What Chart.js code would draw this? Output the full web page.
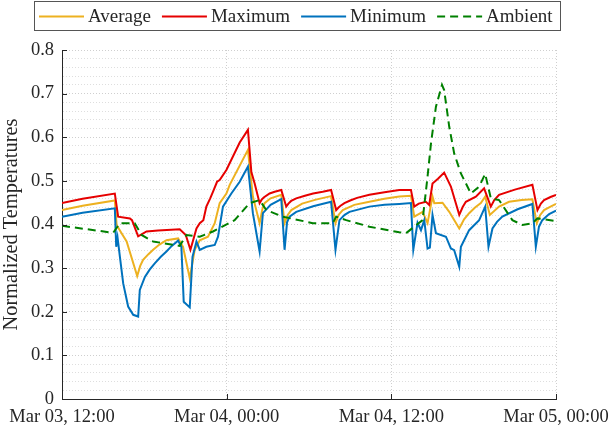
<!DOCTYPE html>
<html><head><meta charset="utf-8">
<script src="https://cdn.jsdelivr.net/npm/chart.js@4.4.0/dist/chart.umd.min.js"></script>
<style>html,body{margin:0;padding:0;background:#fff;}</style>
</head><body>
<canvas id="c" width="613" height="432"></canvas>
<script>
// ---- data (hours since Mar 03, 12:00) ----
const seriesNames = ['Average', 'Maximum', 'Minimum', 'Ambient'];
const xTickHours = [0, 12, 24, 36];
const xTickLabels = ['Mar 03, 12:00', 'Mar 04, 00:00', 'Mar 04, 12:00', 'Mar 05, 00:00'];
const yTickLabels = ['0', '0.1', '0.2', '0.3', '0.4', '0.5', '0.6', '0.7', '0.8'];

const hoursAvg = [0,1.5,3.85,3.98,4.34,4.71,5.48,5.7,5.91,6.3,6.64,7.1,7.61,8.46,8.82,9.31,9.67,10.04,10.64,11.13,11.49,11.98,12.22,13.55,13.91,14.4,14.6,14.76,15.2,15.98,16.22,16.45,16.71,17.5,18.5,19.61,19.93,20.15,20.46,21.3,22.4,23.5,24.58,25.43,25.67,26.28,26.64,27.0,27.13,27.73,28.22,28.95,29.3,29.67,30.1,30.52,30.84,31.18,31.85,32.58,33.5,34.28,34.6,34.85,35.13,35.6,36];
const avgVals  = [.433,.443,.455,.399,.380,.361,.282,.305,.319,.332,.342,.354,.364,.368,.349,.277,.342,.364,.372,.403,.449,.471,.491,.571,.464,.403,.435,.449,.460,.468,.403,.422,.433,.448,.457,.465,.403,.422,.433,.445,.452,.459,.464,.466,.418,.429,.403,.464,.449,.450,.429,.391,.412,.426,.439,.449,.464,.422,.441,.452,.456,.458,.403,.422,.433,.441,.447];

const hoursMax = [0,1.5,3.85,4.09,4.95,5.1,5.55,6.16,7.0,8.58,9.02,9.36,9.8,10.04,10.3,10.52,10.8,11.0,11.3,11.49,11.98,12.95,13.55,13.8,14.04,14.4,14.55,14.7,15.13,15.5,15.98,16.34,16.5,16.7,17.07,17.7,18.3,19.0,19.61,19.98,20.15,20.3,20.58,21.0,21.5,22.4,23.5,24.58,25.43,25.67,26.0,26.52,26.76,27.0,27.4,27.85,28.34,28.95,29.2,29.43,30.16,30.76,31.25,31.5,31.85,33.0,34.28,34.65,34.9,35.13,35.6,36];
const maxVals  = [.449,.459,.471,.418,.414,.410,.373,.384,.386,.389,.376,.342,.391,.403,.410,.441,.460,.475,.498,.502,.525,.588,.617,.520,.494,.449,.457,.462,.471,.475,.479,.441,.448,.454,.460,.466,.471,.475,.479,.433,.439,.443,.449,.455,.461,.468,.474,.479,.479,.441,.448,.452,.445,.494,.505,.519,.487,.422,.440,.452,.464,.483,.441,.456,.468,.480,.491,.433,.448,.456,.463,.468];

const hoursMin = [0,1.5,3.85,3.95,4.05,4.22,4.46,4.82,5.19,5.55,5.67,6.04,6.4,6.76,7.2,7.61,8.0,8.46,8.70,8.87,9.31,9.51,9.8,10.04,10.52,11.13,11.37,11.73,12.34,12.95,13.55,13.91,14.4,14.64,15.2,15.98,16.22,16.4,16.58,17.07,18.3,19.61,19.93,20.22,20.6,20.95,22.4,23.5,24.58,25.43,25.6,25.91,26.16,26.4,26.64,26.81,27.0,27.25,27.98,28.34,28.58,28.95,29.07,29.67,30.4,30.84,31.08,31.37,31.7,32.09,33.2,34.28,34.53,34.76,35.0,35.5,36];
const minVals  = [.418,.427,.437,.349,.370,.326,.265,.212,.193,.189,.250,.280,.297,.311,.326,.338,.351,.363,.349,.223,.210,.326,.361,.342,.349,.353,.372,.441,.471,.498,.533,.426,.338,.426,.445,.458,.342,.405,.418,.429,.442,.452,.342,.410,.422,.429,.441,.445,.447,.449,.342,.404,.387,.410,.345,.347,.422,.380,.372,.345,.341,.303,.349,.387,.410,.441,.349,.391,.406,.418,.435,.447,.349,.395,.410,.424,.432];

const hoursAmb = [0,3.73,4.22,5.3,5.8,6.64,8.58,9.07,10.04,11.0,12.58,13.67,14.4,14.89,16.09,18.28,19.73,19.98,20.71,22.4,24.58,25.07,25.67,26.28,26.64,26.89,27.25,27.69,27.85,28.22,28.58,29.07,29.8,30.4,30.84,31.25,31.85,32.82,33.55,34.28,34.65,36];
const ambVals  = [.397,.381,.403,.403,.376,.361,.351,.376,.372,.384,.410,.449,.456,.433,.418,.403,.403,.418,.410,.395,.382,.380,.395,.410,.510,.586,.670,.720,.708,.624,.563,.517,.471,.487,.516,.460,.456,.410,.399,.403,.414,.408];

// ---- styles ----
const colors = ['#EDB120', '#E60000', '#0072BD', '#008000'];
const dashes = [[], [], [], [8, 5]];
const TXT = '#262626';
const SERIF = '"Liberation Serif", "Times New Roman", serif';

function zip(xs, ys) {
  const n = Math.min(xs.length, ys.length);
  const out = [];
  for (let i = 0; i < n; i++) out.push({x: xs[i], y: ys[i]});
  return out;
}
const seriesData = [zip(hoursAvg, avgVals), zip(hoursMax, maxVals), zip(hoursMin, minVals), zip(hoursAmb, ambVals)];

const datasets = seriesNames.map((name, i) => ({
  label: name,
  data: seriesData[i],
  borderColor: colors[i],
  backgroundColor: colors[i],
  borderWidth: 2,
  borderDash: dashes[i],
  pointRadius: 0,
  fill: false,
  tension: 0,
  order: 4 - i
}));

const decor = {
  id: 'decor',
  afterDraw(chart) {
    const ctx = chart.ctx;
    const xs = chart.scales.x, ys = chart.scales.y;
    const a = chart.chartArea;
    ctx.save();
    ctx.strokeStyle = TXT; ctx.lineWidth = 1; ctx.setLineDash([]);
    // inward ticks
    yTickLabels.forEach((lbl, i) => {
      const y = Math.round(ys.getPixelForValue(i / 10)) + 0.5;
      ctx.beginPath(); ctx.moveTo(a.left, y); ctx.lineTo(a.left + 5, y); ctx.stroke();
    });
    xTickHours.forEach(h => {
      const x = Math.round(xs.getPixelForValue(h)) + 0.5;
      ctx.beginPath(); ctx.moveTo(x, a.bottom); ctx.lineTo(x, a.bottom - 5); ctx.stroke();
    });
    // legend
    ctx.font = '19px ' + SERIF;
    ctx.textBaseline = 'alphabetic';
    ctx.fillStyle = TXT;
    let x = 39;
    const lineY = 16.5, textY = 22;
    chart.data.datasets.forEach((ds, i) => {
      ctx.save();
      ctx.strokeStyle = ds.borderColor; ctx.lineWidth = 2;
      ctx.setLineDash(ds.borderDash || []);
      ctx.beginPath(); ctx.moveTo(x, lineY); ctx.lineTo(x + 45, lineY); ctx.stroke();
      ctx.restore();
      x += 49;
      ctx.fillText(ds.label, x, textY);
      x += ctx.measureText(ds.label).width;
      if (i < chart.data.datasets.length - 1) x += 11;
    });
    ctx.strokeStyle = '#555'; ctx.lineWidth = 1;
    ctx.strokeRect(34.5, 1.5, Math.round(x + 7) - 34, 29);
    ctx.restore();
  }
};

new Chart(document.getElementById('c'), {
  type: 'line',
  data: {datasets},
  options: {
    responsive: false,
    animation: false,
    events: [],
    layout: {padding: {top: 50, right: 57, bottom: 0, left: 0}},
    plugins: {legend: {display: false}, tooltip: {enabled: false}},
    scales: {
      x: {
        type: 'linear', min: 0, max: 36,
        grid: {color: '#cfcfcf', lineWidth: 1, drawTicks: false},
        border: {display: true, color: TXT, width: 1, dash: [1, 2]},
        ticks: {
          stepSize: 12, autoSkip: false, maxRotation: 0, padding: 7,
          color: TXT, font: {family: SERIF, size: 18.5},
          callback: (v) => { const k = xTickHours.indexOf(v); return k >= 0 ? xTickLabels[k] : ''; }
        },
        afterFit: (s) => { s.paddingLeft = 0; s.paddingRight = 0; s.height = 33; }
      },
      y: {
        type: 'linear', min: 0, max: 0.8,
        grid: {
          color: (c) => { const v = c.tick ? c.tick.value : 0; return Math.abs(v * 10 - Math.round(v * 10)) < 1e-6 ? '#cfcfcf' : '#dedede'; },
          lineWidth: 1, drawTicks: false
        },
        border: {display: true, color: TXT, width: 1, dash: [1, 2]},
        ticks: {
          stepSize: 0.02, autoSkip: false, padding: 8,
          color: TXT, font: {family: SERIF, size: 18.5},
          callback: (v) => { const k = Math.round(v * 10); return Math.abs(v * 10 - k) < 1e-6 ? yTickLabels[k] : ''; }
        },
        title: {display: true, text: 'Normalized Temperatures', color: TXT,
          font: {family: SERIF, size: 20.4, lineHeight: 1.0}, padding: {top: 1, bottom: 0}},
        afterFit: (s) => { s.paddingTop = 0; s.paddingBottom = 0; s.width = 62; }
      }
    }
  },
  plugins: [decor]
});
</script>
</body></html>
